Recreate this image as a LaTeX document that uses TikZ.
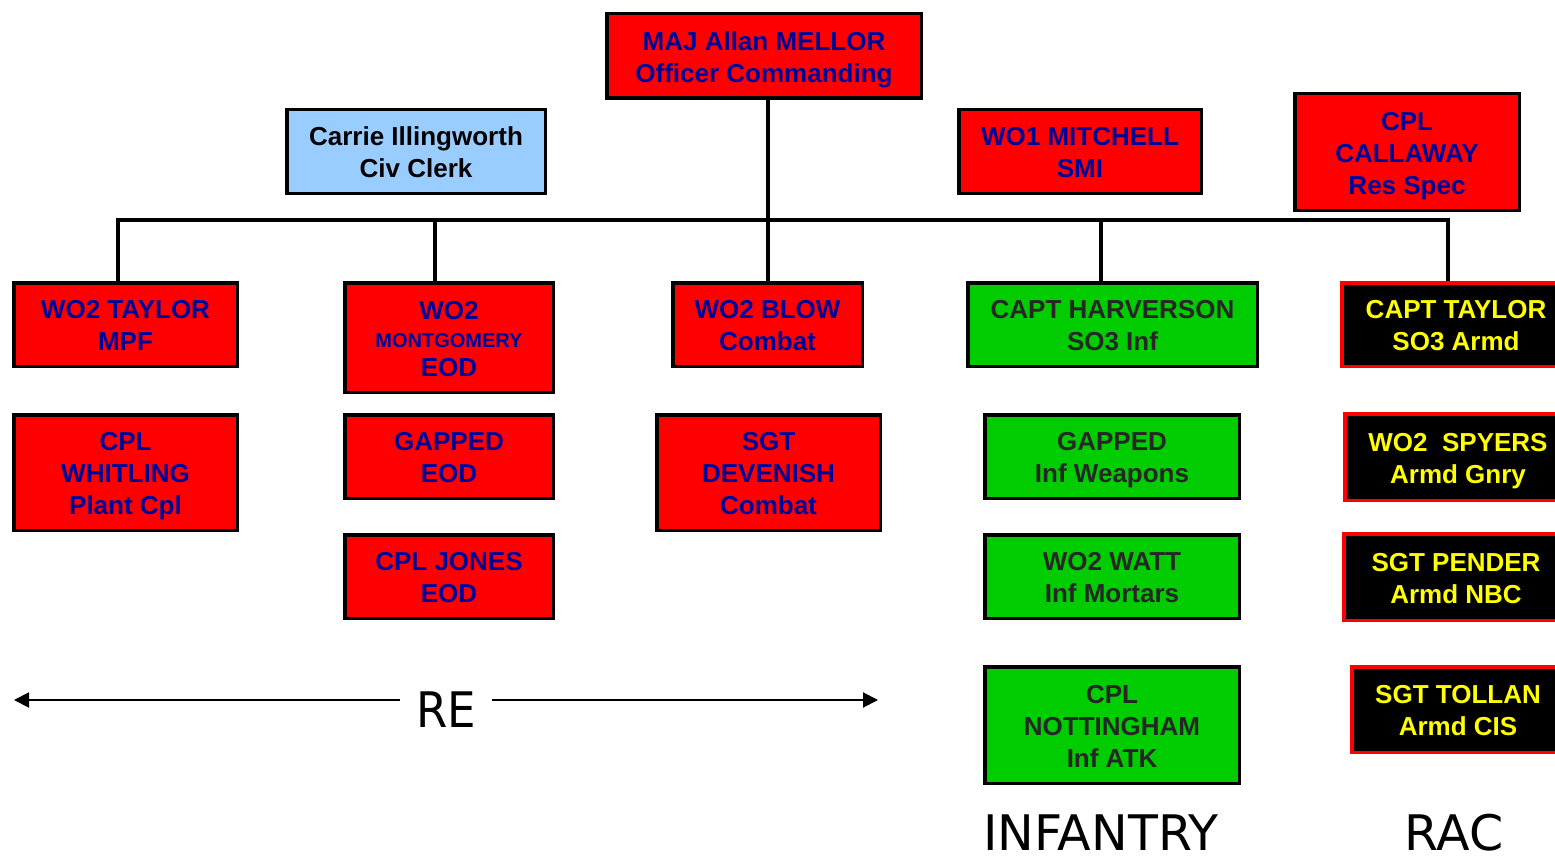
\documentclass[tikz,border=0pt]{standalone}
\usepackage{fontspec}
\setmainfont{Liberation Sans}
\newfontfamily\lblfont{DejaVu Sans}
\usetikzlibrary{arrows.meta}
\definecolor{navyt}{RGB}{0,0,153}
\definecolor{boxred}{RGB}{255,0,0}
\definecolor{boxgreen}{RGB}{0,204,0}
\definecolor{boxblue}{RGB}{153,204,255}
\definecolor{ylw}{RGB}{255,255,0}
\tikzset{
  base/.style={draw=black, line width=3.5pt, inner sep=0pt},
  txt/.style={align=center, inner sep=0pt, text depth=0pt,
    font=\fontsize{26}{32}\selectfont\bfseries},
  redbox/.style={base, fill=boxred},
  greenbox/.style={base, fill=boxgreen},
  bluebox/.style={base, fill=boxblue},
  racbox/.style={base, fill=black, draw=boxred},
  redtxt/.style={txt, text=navyt},
  greentxt/.style={txt, text=black!85},
  bluetxt/.style={txt, text=black},
  ractxt/.style={txt, text=ylw},
  conn/.style={line width=4pt, line join=miter},
  lbl/.style={font=\fontsize{49}{56}\selectfont\lblfont, inner sep=0pt, text depth=0pt, text height=36pt},
  arr/.style={line width=2pt, -{Triangle[length=15pt,width=15pt]}},
}
% \bx{name}{x1}{y1}{x2}{y2}{kind}{text}
\newcommand\bx[7]{%
  \node[#6box, minimum width={#4-#2-3.5}, minimum height={#5-#3-3.5}] (#1) at ({(#2+#4)/2},{(#3+#5)/2}) {};
  \node[#6txt] (#1t) at ([yshift=-1pt]#1.center) {#7};}
\begin{document}
\begin{tikzpicture}[x=1pt,y=-1pt]
\useasboundingbox (0,0) rectangle (1555,856);
\clip (0,0) rectangle (1555,856);
% top row
\bx{maj}{605}{12}{923}{100}{red}{MAJ Allan MELLOR\\Officer Commanding}
\bx{clerk}{285}{108}{547}{195}{blue}{Carrie Illingworth\\Civ Clerk}
\bx{smi}{957}{108}{1203}{195}{red}{WO1 MITCHELL\\SMI}
\bx{call}{1293}{92}{1521}{212}{red}{CPL\\CALLAWAY\\Res Spec}
% second row
\bx{taylor}{12}{281}{239}{368}{red}{WO2 TAYLOR\\MPF}
\bx{mont}{343}{281}{555}{394}{red}{WO2\\[-4pt]{\fontsize{20}{24}\selectfont MONTGOMERY}\\[-3pt]EOD}
\bx{blow}{671}{281}{864}{368}{red}{WO2 BLOW\\Combat}
\bx{harv}{966}{281}{1259}{368}{green}{CAPT HARVERSON\\SO3 Inf}
\bx{ctaylor}{1340}{281}{1572}{368}{rac}{CAPT TAYLOR\\SO3 Armd}
% third row
\bx{whit}{12}{413}{239}{532}{red}{CPL\\WHITLING\\Plant Cpl}
\bx{gapeod}{343}{413}{555}{500}{red}{GAPPED\\EOD}
\bx{dev}{655}{413}{882}{532}{red}{SGT\\DEVENISH\\Combat}
\bx{gapinf}{983}{413}{1241}{500}{green}{GAPPED\\Inf Weapons}
\bx{spy}{1343}{412}{1573}{502}{rac}{WO2\ \ SPYERS\\Armd Gnry}
% fourth row
\bx{jones}{343}{533}{555}{620}{red}{CPL JONES\\EOD}
\bx{watt}{983}{533}{1241}{620}{green}{WO2 WATT\\Inf Mortars}
\bx{pend}{1342}{532}{1570}{622}{rac}{SGT PENDER\\Armd NBC}
% fifth row
\bx{nott}{983}{665}{1241}{785}{green}{CPL\\NOTTINGHAM\\Inf ATK}
\bx{toll}{1350}{665}{1566}{754}{rac}{SGT TOLLAN\\Armd CIS}
% connectors
\coordinate (b1) at (118,220);
\coordinate (b2) at (435,220);
\coordinate (b3) at (768,220);
\coordinate (b4) at (1101,220);
\coordinate (b5) at (1448,220);
\draw[conn] (b1 |- taylor.north) -- (b1) -- (b5) -- (b5 |- ctaylor.north);
\draw[conn] (b2) -- (b2 |- mont.north);
\draw[conn] (b3 |- maj.south) -- (b3 |- blow.north);
\draw[conn] (b4) -- (b4 |- harv.north);
% labels
\node[lbl, anchor=base, inner xsep=16pt] (re) at (446,727) {\scalebox{0.92}[1]{RE}};
\coordinate (reL) at (14,700);
\coordinate (reR) at (878,700);
\draw[arr] (re.west |- reL) -- (reL);
\draw[arr] (re.east |- reR) -- (reR);
\node[lbl, anchor=base] (inf) at (1101,850) {INFANTRY};
\node[lbl, anchor=base] (rac) at (1454,850) {RAC};
\end{tikzpicture}
\end{document}
